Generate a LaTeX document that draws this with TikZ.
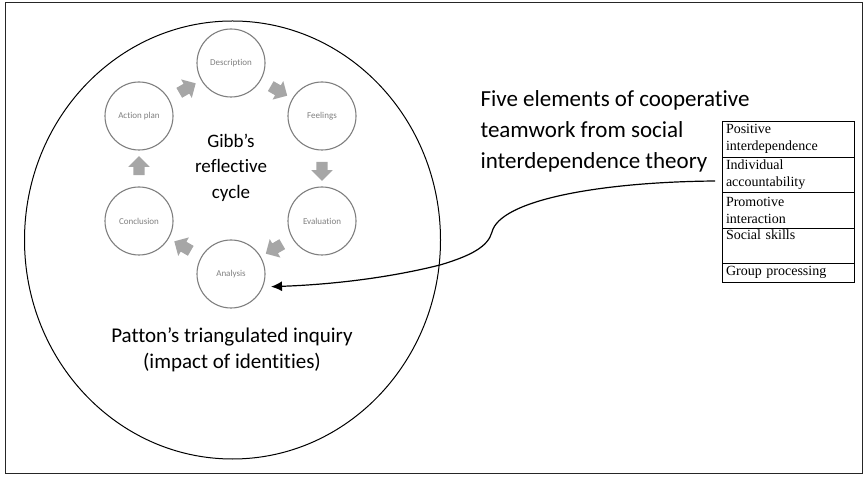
\documentclass[tikz,border=0pt]{standalone}
\usepackage{fontspec}
\setmainfont{Carlito}[Ligatures=NoCommon]
\newfontfamily\tablefont{Liberation Serif}
\usetikzlibrary{positioning,shapes.arrows,arrows.meta,calc}
\definecolor{stagegray}{HTML}{7F7F7F}
\definecolor{arrowgray}{HTML}{A6A6A6}

\begin{document}
\begin{tikzpicture}[x=1pt,y=1pt,
		stage/.style={circle,draw=stagegray,line width=1.1pt,minimum size=68pt,inner sep=0pt,text=stagegray,font=\fontsize{9}{10}\selectfont},
		cyclearrow/.style={single arrow,fill=arrowgray,draw=none,inner xsep=0pt,inner ysep=5.5pt,minimum height=19pt,single arrow head extend=5pt},
		rowbox/.style={draw,line width=0.8pt,text width=124pt,inner xsep=4pt,inner ysep=0pt,outer sep=0pt,align=left,font=\tablefont\fontsize{14}{17}\selectfont}]
		\useasboundingbox (0,0) rectangle (866,476);
		\draw[line width=1pt,black!85] (5,3) rectangle (862,473);
		\draw[line width=1pt] (232.5,236) ellipse [x radius=208,y radius=219];
		\node[stage] (desc) at (231,413) {Description};
		\node[stage] (feel) at (322,360) {Feelings};
		\node[stage] (eval) at (322,255) {Evaluation};
		\node[stage] (anal) at (231,202) {Analysis};
		\node[stage] (concl) at (139,255) {Conclusion};
		\node[stage] (plan) at (139,360) {Action plan};
		\node[cyclearrow,rotate=-30] (a1) at ($(desc)!.5!(feel)$) {};
		\node[cyclearrow,rotate=-90] (a2) at ($(feel)!.5!(eval)$) {};
		\node[cyclearrow,rotate=-150] (a3) at ($(eval)!.5!(anal)$) {};
		\node[cyclearrow,rotate=150] (a4) at ($(anal)!.5!(concl)$) {};
		\node[cyclearrow,rotate=90] (a5) at ($(concl)!.5!(plan)$) {};
		\node[cyclearrow,rotate=30] (a6) at ($(plan)!.5!(desc)$) {};
		\node[font=\fontsize{19}{25.5}\selectfont,align=center] (gibbs) at (231,308.5) {Gibb’s\\reflective\\cycle};
		\node[font=\fontsize{21}{26}\selectfont,align=center] (patton) at (232,126) {Patton’s triangulated inquiry\\(impact of identities)};
		\node[font=\fontsize{23}{31}\selectfont,align=left,anchor=west] (five) at (477,345) {Five elements of cooperative\\teamwork from social\\interdependence theory};
		\node[rowbox,minimum height=36pt,anchor=north] (r1) at (788,355) {Positive\\interdependence};
		\node[rowbox,minimum height=35pt,below=0pt of r1] (r2) {Individual\\accountability};
		\node[rowbox,minimum height=36pt,below=0pt of r2] (r3) {Promotive\\interaction};
		\node[rowbox,minimum height=35pt,below=0pt of r3] (r4) {Social skills\\\strut};
		\node[rowbox,minimum height=19pt,below=0pt of r4] (r5) {Group processing};
		\coordinate (link) at ([xshift=-7pt,yshift=-6.5pt]r2.west);
		\draw[line width=1.2pt,-{Latex[length=11pt,width=10pt]},shorten >=8pt] (link) .. controls (600,294) and (500,276) .. (492,244) .. controls (488,229) and (470,220) .. (440,211) .. controls (380,196) and (320,191) .. (anal.-22);
	\end{tikzpicture}
\end{document}
